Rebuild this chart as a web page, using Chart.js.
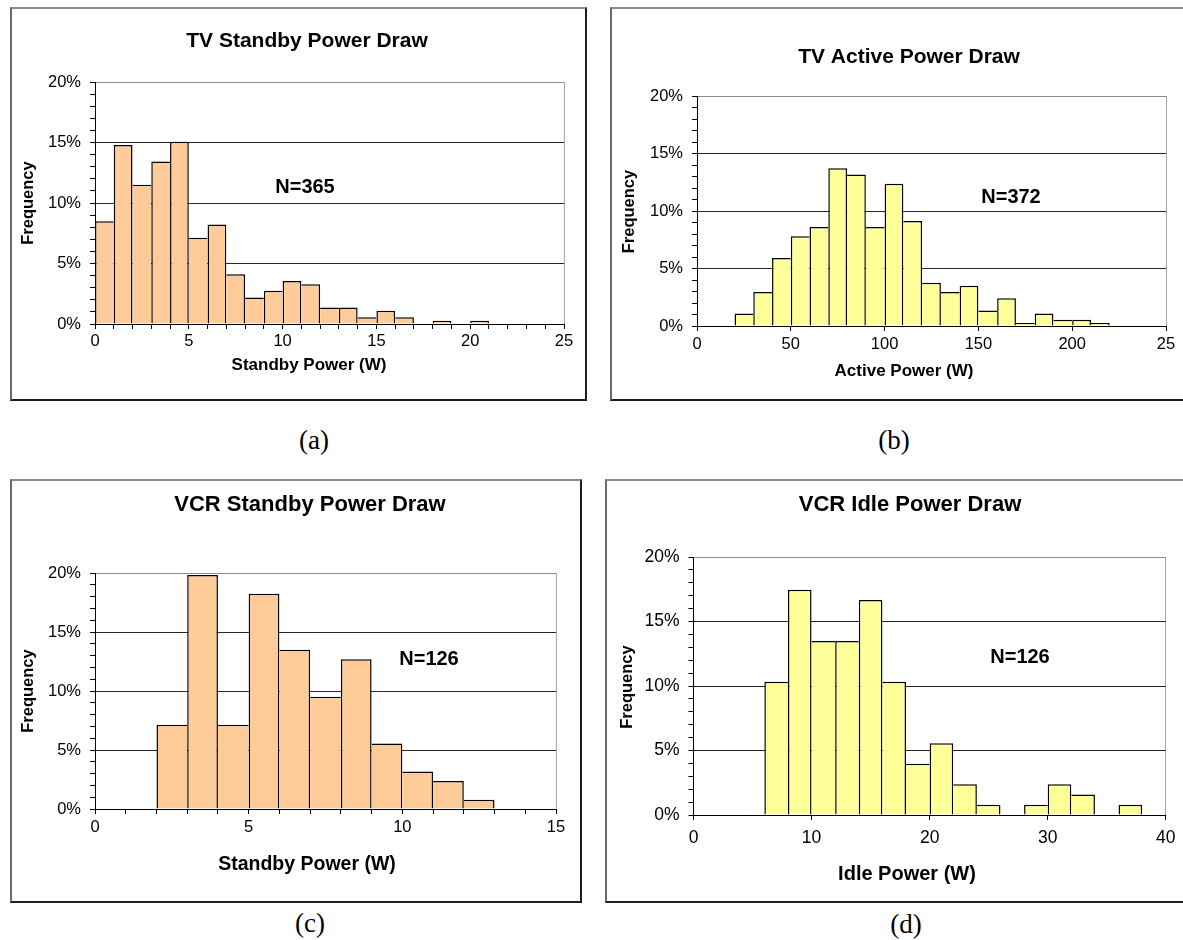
<!DOCTYPE html>
<html>
<head>
<meta charset="utf-8">
<title>TV and VCR power draw histograms</title>
<script src="https://cdn.jsdelivr.net/npm/chart.js@4.4.1/dist/chart.umd.min.js"></script>
<style>
  html, body { margin: 0; padding: 0; background: #fff; }
  body { position: relative; width: 1183px; height: 940px; overflow: hidden; }
  .frame {
    position: absolute; box-sizing: border-box; pointer-events: none;
    border-style: solid; border-width: 2px;
    border-color: #8a8a8a #1e1e1e #1e1e1e #6a6a6a;
  }
  canvas.panel { position: absolute; }
  .cap {
    position: absolute; transform: translate(-50%, -50%); white-space: nowrap;
    font-family: "Liberation Serif", "Times New Roman", serif; font-size: 27px; color: #000;
  }
</style>
</head>
<body>
<script>
// ---- Frequency axis (percent of units) ----
const freqTicks = [0, 5, 10, 15, 20];
const freqTickLabels = ['0%', '5%', '10%', '15%', '20%'];

// ---- (a) TV standby power, 1 W bins (lower bin edges) ----
const tvStandbyEdges = [0, 1, 2, 3, 4, 5, 6, 7, 8, 9, 10, 11, 12, 13, 14, 15, 16, 17, 18, 19, 20];
const tvStandbyFreq = [8.49, 14.79, 11.51, 13.42, 15.07, 7.12, 8.22, 4.11, 2.19, 2.74, 3.56,
                       3.29, 1.37, 1.37, 0.55, 1.10, 0.55, 0, 0.27, 0, 0.27];
const tvStandbyTicks = [0, 5, 10, 15, 20, 25];
const tvStandbyTickLabels = ['0', '5', '10', '15', '20', '25'];

// ---- (b) TV active power, 10 W bins ----
const tvActiveEdges = [20, 30, 40, 50, 60, 70, 80, 90, 100, 110, 120, 130, 140, 150, 160, 170, 180, 190, 200, 210];
const tvActiveFreq = [1.08, 2.96, 5.91, 7.80, 8.60, 13.71, 13.17, 8.60, 12.37, 9.14,
                      3.76, 2.96, 3.49, 1.34, 2.42, 0.27, 1.08, 0.54, 0.54, 0.27];
const tvActiveTicks = [0, 50, 100, 150, 200, 250];
const tvActiveTickLabels = ['0', '50', '100', '150', '200', '25'];

// ---- (c) VCR standby power, 1 W bins ----
const vcrStandbyEdges = [2, 3, 4, 5, 6, 7, 8, 9, 10, 11, 12];
const vcrStandbyFreq = [7.14, 19.84, 7.14, 18.25, 13.49, 9.52, 12.70, 5.56, 3.17, 2.38, 0.79];
const vcrStandbyTicks = [0, 5, 10, 15];
const vcrStandbyTickLabels = ['0', '5', '10', '15'];

// ---- (d) VCR idle power, 2 W bins ----
const vcrIdleEdges = [6, 8, 10, 12, 14, 16, 18, 20, 22, 24, 26, 28, 30, 32, 34, 36];
const vcrIdleFreq = [10.32, 17.46, 13.49, 13.49, 16.67, 10.32, 3.97, 5.56, 2.38, 0.79,
                     0, 0.79, 2.38, 1.59, 0, 0.79];
const vcrIdleTicks = [0, 10, 20, 30, 40];
const vcrIdleTickLabels = ['0', '10', '20', '30', '40'];

const SANS = '"Liberation Sans", Arial, Helvetica, sans-serif';
const EDGE = 1.5;

// Draws the chart title, axis titles and sample-size note on the canvas.
function textPlugin(items, ox, oy) {
  return {
    id: 'panelText',
    afterDraw(chart) {
      const ctx = chart.ctx;
      for (const t of items) {
        ctx.save();
        ctx.fillStyle = '#000';
        ctx.font = (t.bold ? 'bold ' : '') + t.size + 'px ' + SANS;
        ctx.textAlign = 'center';
        ctx.translate(t.x - ox, t.y - oy);
        if (t.rotate) {
          ctx.rotate(-Math.PI / 2);
          ctx.textBaseline = 'middle';
          ctx.fillText(t.text, 0, 0);
        } else {
          ctx.textBaseline = 'alphabetic';
          ctx.fillText(t.text, 0, 0.36 * t.size);
        }
        ctx.restore();
      }
    }
  };
}

// Shared edges between neighbouring bars are drawn once, by the taller bar.
function edgeWidths(values) {
  return (c) => {
    const i = c.dataIndex, v = values[i];
    const prev = i > 0 ? values[i - 1] : 0;
    const next = i < values.length - 1 ? values[i + 1] : 0;
    return { top: EDGE, bottom: 0, left: prev <= v ? EDGE : 0, right: next < v ? EDGE : 0 };
  };
}

function makePanel(p) {
  const frame = document.createElement('div');
  frame.className = 'frame';
  Object.assign(frame.style, {
    left: p.frame[0] + 'px', top: p.frame[1] + 'px',
    width: (p.frame[2] - p.frame[0]) + 'px', height: (p.frame[3] - p.frame[1]) + 'px'
  });
  const cv = document.createElement('canvas');
  cv.className = 'panel';
  cv.width = p.size[0]; cv.height = p.size[1];
  cv.style.left = p.frame[0] + 'px'; cv.style.top = p.frame[1] + 'px';
  cv.style.width = p.size[0] + 'px'; cv.style.height = p.size[1] + 'px';
  document.body.appendChild(cv);
  document.body.appendChild(frame);

  const cap = document.createElement('div');
  cap.className = 'cap';
  cap.textContent = p.caption.text;
  cap.style.left = p.caption.x + 'px'; cap.style.top = p.caption.y + 'px';
  document.body.appendChild(cap);

  const half = p.binWidth / 2;
  const points = p.edges.map((e, i) => ({ x: e + half, y: p.freq[i] }));
  const ox = p.frame[0], oy = p.frame[1];
  const yMax = freqTicks[freqTicks.length - 1];
  const xMax = p.xTicks[p.xTicks.length - 1];
  const tickFont = { family: SANS, size: p.tickSize };

  new Chart(cv, {
    type: 'bar',
    data: {
      datasets: [{
        data: points,
        backgroundColor: p.fill,
        borderColor: '#000',
        borderWidth: edgeWidths(p.freq),
        borderSkipped: 'start',
        inflateAmount: 0,
        barPercentage: 1,
        categoryPercentage: 1
      }]
    },
    options: {
      responsive: false,
      animation: false,
      events: [],
      layout: { padding: { left: 0, top: p.plot.top - oy, right: p.size[0] - (p.plot.right - ox), bottom: 0 } },
      plugins: { legend: { display: false }, title: { display: false }, tooltip: { enabled: false } },
      scales: {
        x: {
          type: 'linear',
          min: 0, max: xMax,
          offset: false,
          afterFit: (s) => { s.height = p.size[1] - (p.plot.bottom - oy); },
          grid: {
            offset: false,
            drawOnChartArea: true,
            color: (c) => (c.tick && c.tick.value === xMax ? '#a8a8a8' : 'rgba(0,0,0,0)'),
            tickColor: '#000', tickLength: 5, lineWidth: 1
          },
          border: { display: true, color: '#000', width: 1, z: 1 },
          ticks: {
            stepSize: p.xStep, autoSkip: false, maxRotation: 0, minRotation: 0,
            maxTicksLimit: 1000, padding: p.xLabelPad, color: '#000', font: tickFont,
            callback: (v) => {
              const k = p.xTicks.indexOf(v);
              return k >= 0 ? p.xTickLabels[k] : '';
            }
          }
        },
        y: {
          type: 'linear',
          min: 0, max: yMax,
          afterFit: (s) => { s.width = p.plot.left - ox; },
          grid: {
            drawOnChartArea: true,
            color: (c) => {
              const v = c.tick ? c.tick.value : -1;
              if (v === yMax) return '#8c8c8c';
              return freqTicks.indexOf(v) >= 0 ? '#262626' : 'rgba(0,0,0,0)';
            },
            tickColor: '#000', tickLength: 5, lineWidth: 1
          },
          border: { display: true, color: '#000', width: 1, z: 1 },
          ticks: {
            stepSize: 1, autoSkip: false, maxTicksLimit: 1000, padding: 9,
            color: '#000', font: tickFont,
            callback: (v) => {
              const k = freqTicks.indexOf(v);
              return k >= 0 ? freqTickLabels[k] : '';
            }
          }
        }
      }
    },
    plugins: [textPlugin(p.texts, ox, oy)]
  });
}

const ORANGE = '#FFCC99';
const YELLOW = '#FFFF99';

makePanel({
  frame: [10, 7, 587, 401], size: [577, 394],
  plot: { left: 95, right: 564, top: 82, bottom: 324 },
  edges: tvStandbyEdges, freq: tvStandbyFreq, binWidth: 1, fill: ORANGE,
  xTicks: tvStandbyTicks, xTickLabels: tvStandbyTickLabels, xStep: 1,
  tickSize: 16.5, xLabelPad: 3,
  caption: { text: '(a)', x: 314, y: 440 },
  texts: [
    { text: 'TV Standby Power Draw', x: 307, y: 39.5, size: 21, bold: true },
    { text: 'Frequency', x: 28, y: 203, size: 16.5, bold: true, rotate: true },
    { text: 'Standby Power (W)', x: 309, y: 364, size: 17, bold: true },
    { text: 'N=365', x: 305, y: 186, size: 20, bold: true }
  ]
});

makePanel({
  frame: [610, 7, 1208, 401], size: [573, 394],
  plot: { left: 697, right: 1166, top: 96, bottom: 326 },
  edges: tvActiveEdges, freq: tvActiveFreq, binWidth: 10, fill: YELLOW,
  xTicks: tvActiveTicks, xTickLabels: tvActiveTickLabels, xStep: 50,
  tickSize: 16.5, xLabelPad: 4,
  caption: { text: '(b)', x: 894, y: 440 },
  texts: [
    { text: 'TV Active Power Draw', x: 909, y: 55, size: 21, bold: true },
    { text: 'Frequency', x: 629.5, y: 211.5, size: 16.5, bold: true, rotate: true },
    { text: 'Active Power (W)', x: 904, y: 370, size: 17, bold: true },
    { text: 'N=372', x: 1011, y: 196, size: 20, bold: true }
  ]
});

makePanel({
  frame: [10, 479, 582, 903], size: [572, 424],
  plot: { left: 95, right: 556, top: 573, bottom: 809 },
  edges: vcrStandbyEdges, freq: vcrStandbyFreq, binWidth: 1, fill: ORANGE,
  xTicks: vcrStandbyTicks, xTickLabels: vcrStandbyTickLabels, xStep: 1,
  tickSize: 16.5, xLabelPad: 3.5,
  caption: { text: '(c)', x: 310, y: 923 },
  texts: [
    { text: 'VCR Standby Power Draw', x: 310, y: 503, size: 22, bold: true },
    { text: 'Frequency', x: 28, y: 691, size: 16.5, bold: true, rotate: true },
    { text: 'Standby Power (W)', x: 307, y: 862.5, size: 19.5, bold: true },
    { text: 'N=126', x: 429, y: 657.5, size: 20, bold: true }
  ]
});

makePanel({
  frame: [605, 479, 1208, 903], size: [578, 424],
  plot: { left: 693.5, right: 1170, top: 557, bottom: 815 },
  edges: vcrIdleEdges, freq: vcrIdleFreq, binWidth: 2, fill: YELLOW,
  xTicks: vcrIdleTicks, xTickLabels: vcrIdleTickLabels, xStep: 10,
  tickSize: 17.5, xLabelPad: 7.5,
  caption: { text: '(d)', x: 906, y: 924 },
  texts: [
    { text: 'VCR Idle Power Draw', x: 910, y: 503.5, size: 22, bold: true },
    { text: 'Frequency', x: 627, y: 687, size: 16.5, bold: true, rotate: true },
    { text: 'Idle Power (W)', x: 907, y: 872.5, size: 20, bold: true },
    { text: 'N=126', x: 1020, y: 656, size: 20, bold: true }
  ]
});
</script>
</body>
</html>
